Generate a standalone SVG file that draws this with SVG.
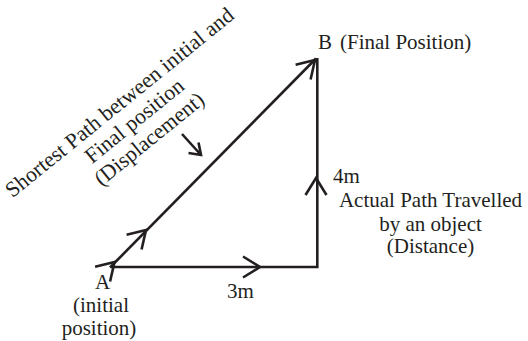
<svg xmlns="http://www.w3.org/2000/svg" width="528" height="341" viewBox="0 0 528 341">
  <style>
    .t { font-family: "Liberation Serif", "Times New Roman", serif; font-size: 21px; fill: #231f20; }
    .rot { font-size: 21.8px; }
    .ln { fill: none; stroke: #231f20; stroke-width: 2.6; stroke-linecap: butt; stroke-linejoin: miter; }
  </style>
  <defs>
    <path id="chev" d="M-17,-10.5 L0,0 L-17,10.5" fill="none" stroke="#231f20" stroke-width="2.6"/>
  </defs>
  <rect width="528" height="341" fill="#ffffff"/>
  <g id="connectors">
    <path class="ln" d="M111,267 H317.3 V58"/>
    <path class="ln" d="M110,267.5 L316,58.5"/>
    <use href="#chev" transform="translate(260,267)"/>
    <use href="#chev" transform="translate(316,178) rotate(-90)"/>
    <use href="#chev" transform="translate(146,230) rotate(-45.5)"/>
    <use href="#chev" transform="translate(114.5,262) rotate(-45.5)"/>
    <use href="#chev" transform="translate(315,60) rotate(-45.5)"/>
    <path class="ln" d="M182,134 L201,155 M188.5,153 L201,155 L198.5,142.5"/>
  </g>
  <g id="node-A">
    <text class="t" x="102.5" y="289" text-anchor="middle">A</text>
    <text class="t" x="101" y="312" text-anchor="middle">(initial</text>
    <text class="t" x="99" y="335" text-anchor="middle">position)</text>
  </g>
  <g id="node-B">
    <text class="t" x="318" y="49">B <tspan x="340">(Final Position)</tspan></text>
  </g>
  <g id="label-displacement">
    <text class="t rot" transform="translate(124,108) rotate(-39)" text-anchor="middle"><tspan x="0" y="0">Shortest Path between initial and</tspan><tspan x="0" y="23.5">Final position</tspan><tspan x="0" y="47">(Displacement)</tspan></text>
  </g>
  <g id="label-3m">
    <text class="t" x="227" y="298">3m</text>
  </g>
  <g id="label-4m">
    <text class="t" x="333" y="183">4m</text>
  </g>
  <g id="label-distance">
    <text class="t" x="430.5" y="207" text-anchor="middle">Actual Path Travelled</text>
    <text class="t" x="430.5" y="231" text-anchor="middle">by an object</text>
    <text class="t" x="430.5" y="253" text-anchor="middle">(Distance)</text>
  </g>
</svg>
